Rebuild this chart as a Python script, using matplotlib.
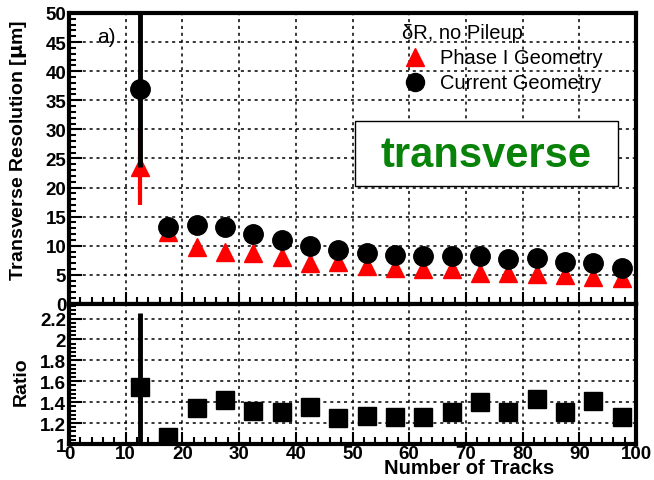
import matplotlib
matplotlib.use('Agg')
import matplotlib.pyplot as plt
from matplotlib.patches import Rectangle
from matplotlib.ticker import MultipleLocator, FuncFormatter

plt.rcParams['font.family'] = ['Liberation Sans', 'DejaVu Sans']

# number of tracks (bin centres)
n_tracks = [12.5, 17.5, 22.5, 27.5, 32.5, 37.5, 42.5, 47.5, 52.5,
            57.5, 62.5, 67.5, 72.5, 77.5, 82.5, 87.5, 92.5, 97.5]

# resolution in micron
current_res = [37.0, 13.3, 13.6, 13.3, 12.0, 11.0, 9.9, 9.2, 8.8,
               8.4, 8.3, 8.3, 8.2, 7.8, 7.9, 7.2, 7.1, 6.2]
current_err = [13.5, 0.3, 0.3, 0.3, 0.2, 0.2, 0.2, 0.2, 0.2,
               0.2, 0.2, 0.2, 0.2, 0.2, 0.2, 0.2, 0.2, 0.2]
phase1_res = [23.5, 12.3, 9.7, 9.0, 8.8, 8.0, 7.1, 7.2, 6.6,
              6.1, 6.0, 6.0, 5.4, 5.3, 5.2, 5.0, 4.6, 4.5]
phase1_err = [6.5, 0.3, 0.3, 0.3, 0.2, 0.2, 0.2, 0.2, 0.2,
              0.2, 0.2, 0.2, 0.2, 0.2, 0.2, 0.2, 0.2, 0.2]

ratio = [1.55, 1.07, 1.34, 1.42, 1.32, 1.31, 1.35, 1.25, 1.27,
         1.26, 1.26, 1.31, 1.40, 1.31, 1.43, 1.31, 1.41, 1.26]
ratio_err = [0.70, 0.03, 0.03, 0.03, 0.03, 0.03, 0.03, 0.03, 0.03,
             0.03, 0.03, 0.03, 0.03, 0.03, 0.03, 0.03, 0.03, 0.03]

fig = plt.figure(figsize=(6.54, 4.81), dpi=100)
ax = fig.add_axes([0.1055, 0.366, 0.867, 0.605])
ax2 = fig.add_axes([0.1055, 0.0748, 0.867, 0.2912])

grid_style = dict(color='black', linestyle=(0, (2, 2.5)), linewidth=1.1)


def style_axes(a):
    for sp in a.spines.values():
        sp.set_linewidth(3)
    a.set_xlim(0, 100)
    a.xaxis.set_major_locator(MultipleLocator(10))
    a.xaxis.set_minor_locator(MultipleLocator(2))
    a.tick_params(which='both', direction='in', top=False, right=False,
                  width=1.5, labelsize=13.5)
    a.tick_params(which='major', length=9)
    a.tick_params(which='minor', length=5)
    a.grid(True, which='major', **grid_style)
    a.set_axisbelow(True)


# top panel
style_axes(ax)
ax.set_ylim(0, 50)
ax.yaxis.set_major_locator(MultipleLocator(5))
ax.yaxis.set_minor_locator(MultipleLocator(1))
ax.tick_params(axis='x', labelbottom=False)
ax.tick_params(axis='y', pad=2)
for lab in ax.get_yticklabels():
    lab.set_fontweight('bold')

ax.errorbar(n_tracks, phase1_res, yerr=phase1_err, fmt='^', color='red',
            ms=13, elinewidth=3, capsize=0, zorder=3)
ax.errorbar(n_tracks, current_res, yerr=current_err, fmt='o', color='black',
            ms=14, elinewidth=3.5, capsize=0, zorder=4)

ax.set_ylabel('Transverse Resolution [$\\mathbf{\\mu}$m]', fontsize=14,
              fontweight='bold')
ax.yaxis.set_label_coords(-0.07, 0.53)

ax.text(0.05, 0.92, 'a)', transform=ax.transAxes, fontsize=15, va='center')
ax.text(0.588, 0.933, '\u03b4R, no Pileup', transform=ax.transAxes,
        fontsize=14.5, va='center')
ax.plot([0.61], [0.848], transform=ax.transAxes, marker='^', color='red',
        ms=13, ls='none')
ax.text(0.655, 0.848, 'Phase I Geometry', transform=ax.transAxes,
        fontsize=14.5, va='center')
ax.plot([0.61], [0.762], transform=ax.transAxes, marker='o', color='black',
        ms=13, ls='none')
ax.text(0.655, 0.762, 'Current Geometry', transform=ax.transAxes,
        fontsize=14.5, va='center')

ax.add_patch(Rectangle((0.504, 0.405), 0.464, 0.224, transform=ax.transAxes,
                       fc='white', ec='black', lw=1, zorder=5))
ax.text(0.736, 0.512, 'transverse', transform=ax.transAxes, fontsize=30,
        fontweight='bold', color='#088208', ha='center', va='center', zorder=6)

# ratio panel
style_axes(ax2)
ax2.set_ylim(1, 2.34)
ax2.yaxis.set_major_locator(MultipleLocator(0.2))
ax2.yaxis.set_minor_locator(MultipleLocator(0.04))
ax2.yaxis.set_major_formatter(FuncFormatter(lambda v, p: '%g' % round(v, 2)))
ax2.tick_params(axis='y', pad=2)
ax2.tick_params(axis='x', pad=1)
for lab in ax2.get_xticklabels() + ax2.get_yticklabels():
    lab.set_fontweight('bold')

ax2.errorbar(n_tracks, ratio, yerr=ratio_err, fmt='s', color='black',
             ms=13, elinewidth=3.5, capsize=0, zorder=3)
ax2.set_ylabel('Ratio', fontsize=14, fontweight='bold')
ax2.yaxis.set_label_coords(-0.07, 0.45)
ax2.text(0.855, -0.17, 'Number of Tracks', transform=ax2.transAxes,
         fontsize=14.5, fontweight='bold', ha='right', va='center')

fig.savefig('out.png', dpi=100)
